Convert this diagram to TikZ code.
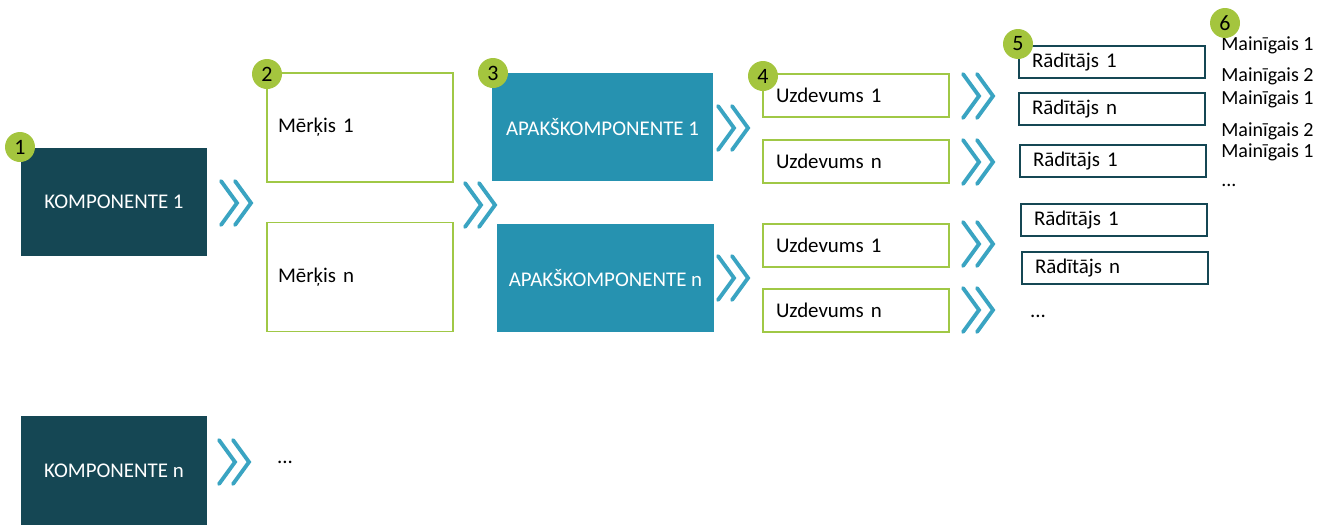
\documentclass[tikz,border=0pt]{standalone}
\usepackage{fontspec}
\setmainfont{Carlito}
\usetikzlibrary{positioning}
\definecolor{darkteal}{RGB}{21,71,84}
\definecolor{midteal}{RGB}{38,146,176}
\definecolor{chevblue}{RGB}{58,164,194}
\definecolor{limegreen}{RGB}{164,197,62}
\definecolor{boxgreen}{RGB}{160,200,70}
\tikzset{
  txt/.style={font=\fontsize{11.9}{14}\selectfont},
  comp/.style={txt, fill=darkteal, text=white, minimum width=3.72cm, minimum height=2.16cm, inner sep=0pt},
  subcomp/.style={txt, fill=midteal, text=white, minimum height=2.16cm, inner sep=0pt},
  goal/.style={txt, draw=boxgreen, line width=0.8pt, fill=white, minimum height=2.18cm, text width=3.28cm, inner xsep=0.22cm, align=left},
  task/.style={txt, draw=boxgreen, line width=0.8pt, fill=white, minimum height=0.86cm, text width=3.2cm, inner xsep=0.26cm, align=left},
  indic/.style={txt, draw=darkteal, line width=1pt, fill=white, minimum height=0.64cm, text width=3.2cm, inner xsep=0.26cm, align=left},
  varlbl/.style={font=\fontsize{11.4}{13}\selectfont, anchor=west, inner sep=0pt},
  num/.style={circle, fill=limegreen, minimum size=0.6cm, inner sep=0pt, font=\fontsize{12.5}{14}\selectfont},
  chevline/.style={draw=chevblue, line width=2.2pt, line cap=round},
  chev/.pic={
    \draw[chevline] (-15,-22) -- (1,0) -- (-15,22);
    \draw[chevline] (-1,-22) -- (15,0) -- (-1,22);
  }
}
\begin{document}
\begin{tikzpicture}[x=0.02cm, y=-0.02cm]
\useasboundingbox (0,0) rectangle (1317,525);
% components
\node[comp] (k1) at (114,202) {KOMPONENTE 1};
\node[comp, minimum height=2.18cm] (kn) at (114,470.5) {KOMPONENTE n};
% goals
\node[goal] (m1) at (360,127.5) {Mērķis 1};
\node[goal] (mn) at (360,277) {Mērķis n};
% sub-components
\node[subcomp, minimum width=4.42cm] (a1) at (602.5,127) {APAKŠKOMPONENTE 1};
\node[subcomp, minimum width=4.34cm] (an) at (605.5,278) {APAKŠKOMPONENTE n};
% tasks
\node[task] (u11) at (856,95.5) {Uzdevums 1};
\node[task] (u1n) at (856,161.5) {Uzdevums n};
\node[task] (un1) at (856,245.5) {Uzdevums 1};
\node[task] (unn) at (856,310.5) {Uzdevums n};
% indicators
\node[indic] (r1) at (1112,62) {Rādītājs 1};
\node[indic] (r2) at (1112,109) {Rādītājs n};
\node[indic] (r3) at (1113,161) {Rādītājs 1};
\node[indic] (r4) at (1114,220) {Rādītājs 1};
\node[indic] (r5) at (1115,268) {Rādītājs n};
\node[txt] (rdots) at (1038,316) {...};
% variables
\node[varlbl] (v1) at (1221,45) {Mainīgais 1};
\node[varlbl] (v2) at (1221,76) {Mainīgais 2};
\node[varlbl] (v3) at (1221,99) {Mainīgais 1};
\node[varlbl] (v4) at (1221,131) {Mainīgais 2};
\node[varlbl] (v5) at (1221,152) {Mainīgais 1};
\node[varlbl] (vdots) at (1221,185) {...};
\node[txt] (kdots) at (285,462) {...};
% chevrons
\foreach \cx/\cy in {236/203, 480/205, 733/128, 733/278, 978/96, 978/162, 978/244, 978/310, 234/462}
  \pic at (\cx,\cy) {chev};
% step numbers
\node[num] (n1) at (20,147) {1};
\node[num] (n2) at (267,74) {2};
\node[num] (n3) at (493,73) {3};
\node[num] (n4) at (763,76) {4};
\node[num] (n5) at (1018,44) {5};
\node[num] (n6) at (1225,23) {6};
\end{tikzpicture}
\end{document}
